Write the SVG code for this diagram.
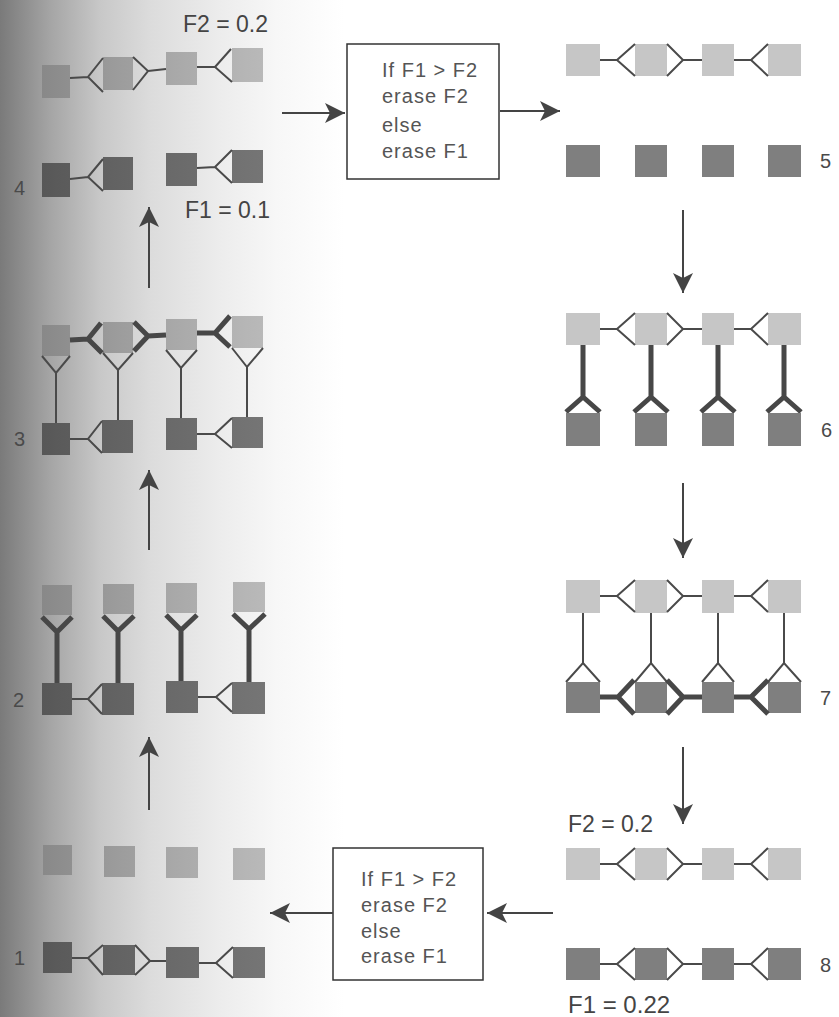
<svg xmlns="http://www.w3.org/2000/svg" width="839" height="1017" viewBox="0 0 839 1017">
<style>
.lt{fill:url(#gLight)}
.dk{fill:url(#gDark)}
.thin{fill:none;stroke:#4a4a4a;stroke-width:2}
.thick{fill:none;stroke:#474747;stroke-width:5;stroke-linejoin:miter}
.arrow{fill:none;stroke:#444;stroke-width:2;marker-end:url(#ah)}
.lbl{font-family:"Liberation Sans",Arial,sans-serif;font-size:23px;fill:#444}
.num{font-family:"Liberation Sans",Arial,sans-serif;font-size:20px;fill:#4a4a4a}
.box{fill:#fff;stroke:#333;stroke-width:1.5}
.bt{font-family:"Liberation Sans",Arial,sans-serif;font-size:20px;letter-spacing:1px;fill:#555}
</style>
<defs>
<linearGradient id="gBg" gradientUnits="userSpaceOnUse" x1="0" y1="0" x2="839" y2="0">
<stop offset="0" stop-color="#7a7a7a"/><stop offset="0.06" stop-color="#a5a5a5"/><stop offset="0.12" stop-color="#c8c8c8"/><stop offset="0.18" stop-color="#dcdcdc"/><stop offset="0.26" stop-color="#ececec"/><stop offset="0.33" stop-color="#f7f7f7"/><stop offset="0.41" stop-color="#ffffff"/><stop offset="1" stop-color="#ffffff"/>
</linearGradient>
<linearGradient id="gLight" gradientUnits="userSpaceOnUse" x1="0" y1="0" x2="839" y2="0">
<stop offset="0" stop-color="#7e7e7e"/><stop offset="0.067" stop-color="#8c8c8c"/><stop offset="0.141" stop-color="#9c9c9c"/><stop offset="0.216" stop-color="#aaaaaa"/><stop offset="0.294" stop-color="#b6b6b6"/><stop offset="0.41" stop-color="#c6c6c6"/><stop offset="1" stop-color="#c6c6c6"/>
</linearGradient>
<linearGradient id="gDark" gradientUnits="userSpaceOnUse" x1="0" y1="0" x2="839" y2="0">
<stop offset="0" stop-color="#4e4e4e"/><stop offset="0.067" stop-color="#5a5a5a"/><stop offset="0.141" stop-color="#636363"/><stop offset="0.216" stop-color="#6b6b6b"/><stop offset="0.294" stop-color="#737373"/><stop offset="0.41" stop-color="#7f7f7f"/><stop offset="1" stop-color="#7f7f7f"/>
</linearGradient>
<marker id="ah" markerUnits="userSpaceOnUse" markerWidth="22" markerHeight="22" refX="20" refY="10" orient="auto" viewBox="0 0 22 22">
<path d="M0,0 L20,10 L0,20 L5,10 Z" fill="#444"/>
</marker>
</defs>
<rect width="839" height="1017" fill="url(#gBg)"/>

<!-- Stage 4 -->
<g id="stage4">
<g id="s4-top">
<rect class="lt" x="42" y="65" width="28" height="33"/>
<rect class="lt" x="103" y="57" width="30" height="33"/>
<rect class="lt" x="166" y="52" width="31" height="33"/>
<rect class="lt" x="232" y="48" width="31" height="34"/>
<path class="thin" d="M70,78 L88,77 M103,58 L88,77 L103,92 M133,57 L148,71 L133,90 M148,71 L166,69 M197,67 L215,67 M231,49 L215,67 L232,82"/>
</g>
<g id="s4-bottom">
<rect class="dk" x="42" y="163" width="28" height="34"/>
<rect class="dk" x="103" y="157" width="30" height="33"/>
<rect class="dk" x="166" y="153" width="31" height="33"/>
<rect class="dk" x="232" y="150" width="31" height="33"/>
<path class="thin" d="M70,179 L88,177 M103,159 L88,177 L103,191 M197,168 L215,167 M232,150 L215,167 L232,183"/>
</g>
<text class="lbl" x="183" y="32">F2 = 0.2</text>
<text class="lbl" x="185" y="218">F1 = 0.1</text>
<text class="num" x="14" y="195">4</text>
</g>

<!-- Stage 3 -->
<g id="stage3">
<g id="s3-top">
<rect class="lt" x="42" y="325" width="28" height="31"/>
<rect class="lt" x="103" y="322" width="30" height="31"/>
<rect class="lt" x="166" y="319" width="31" height="31"/>
<rect class="lt" x="232" y="316" width="31" height="32"/>
<path class="thick" d="M70,340 L88,339 M101,323 L88,339 L102,353 M134,322 L148,336 L134,351 M148,336 L166,335 M197,333 L215,333 M230,316 L215,333 L230,347"/>
</g>
<path class="thin" d="M42,356 L56,373 L70,356 M56,373 V423 M103,353 L118,370 L133,353 M118,370 V420 M166,350 L181,368 L197,350 M181,368 V418 M232,348 L247,367 L263,348 M247,367 V417"/>
<g id="s3-bottom">
<rect class="dk" x="42" y="423" width="28" height="32"/>
<rect class="dk" x="102" y="420" width="31" height="33"/>
<rect class="dk" x="166" y="418" width="31" height="32"/>
<rect class="dk" x="232" y="417" width="31" height="31"/>
<path class="thin" d="M70,439 H88 M102,421 L88,439 L102,453 M197,434 H215 M232,418 L215,434 L232,448"/>
</g>
<text class="num" x="14" y="446">3</text>
</g>

<!-- Stage 2 -->
<g id="stage2">
<g id="s2-top">
<rect class="lt" x="42" y="585" width="30" height="30"/>
<rect class="lt" x="103" y="584" width="31" height="30"/>
<rect class="lt" x="166" y="583" width="31" height="30"/>
<rect class="lt" x="233" y="582" width="32" height="30"/>
</g>
<path class="thick" d="M42,617 L57,632 L72,617 M57,632 V683 M103,616 L118,631 L134,616 M118,631 V683 M166,615 L181,630 L197,615 M181,630 V681 M233,614 L249,629 L265,614 M249,629 V682"/>
<g id="s2-bottom">
<rect class="dk" x="42" y="683" width="30" height="32"/>
<rect class="dk" x="102" y="683" width="32" height="32"/>
<rect class="dk" x="166" y="681" width="32" height="32"/>
<rect class="dk" x="232" y="682" width="33" height="32"/>
<path class="thin" d="M72,699 H88 M102,684 L88,699 L102,714 M198,697 H216 M232,683 L216,697 L232,712"/>
</g>
<text class="num" x="13" y="707">2</text>
</g>

<!-- Stage 1 -->
<g id="stage1">
<g id="s1-top">
<rect class="lt" x="43" y="845" width="29" height="30"/>
<rect class="lt" x="104" y="846" width="31" height="31"/>
<rect class="lt" x="166" y="847" width="32" height="31"/>
<rect class="lt" x="233" y="848" width="32" height="32"/>
</g>
<g id="s1-bottom">
<rect class="dk" x="43" y="942" width="29" height="31"/>
<rect class="dk" x="103" y="945" width="32" height="30"/>
<rect class="dk" x="166" y="947" width="33" height="31"/>
<rect class="dk" x="233" y="947" width="32" height="31"/>
<path class="thin" d="M72,958 H88 M103,945 L88,958 L103,975 M135,945 L150,961 L135,975 M150,961 H166 M199,963 H216 M233,947 L216,963 L233,978"/>
</g>
<text class="num" x="14" y="965">1</text>
</g>

<!-- Stage 5 -->
<g id="stage5">
<g id="s5-top">
<rect class="lt" x="566" y="44" width="34" height="32"/>
<rect class="lt" x="635" y="44" width="32" height="32"/>
<rect class="lt" x="702" y="44" width="32" height="32"/>
<rect class="lt" x="768" y="44" width="33" height="32"/>
<path class="thin" d="M600,60 H617 M635,44 L617,60 L635,76 M667,44 L683,60 L667,76 M683,60 H702 M734,60 H751 M768,44 L751,60 L768,76"/>
</g>
<g id="s5-bottom">
<rect class="dk" x="566" y="145" width="34" height="32"/>
<rect class="dk" x="635" y="145" width="32" height="32"/>
<rect class="dk" x="702" y="145" width="32" height="32"/>
<rect class="dk" x="768" y="145" width="33" height="32"/>
</g>
<text class="num" x="820" y="168">5</text>
</g>

<!-- Stage 6 -->
<g id="stage6">
<g id="s6-top">
<rect class="lt" x="566" y="313" width="34" height="32"/>
<rect class="lt" x="635" y="313" width="32" height="32"/>
<rect class="lt" x="702" y="313" width="32" height="32"/>
<rect class="lt" x="768" y="313" width="33" height="32"/>
<path class="thin" d="M600,329 H617 M635,313 L617,329 L635,345 M667,313 L683,329 L667,345 M683,329 H702 M734,329 H751 M768,313 L751,329 L768,345"/>
</g>
<path class="thick" d="M583,345 V397 M566,412 L583,397 L600,412 M651,345 V397 M634,412 L651,397 L668,412 M718,345 V397 M701,412 L718,397 L735,412 M784,345 V397 M767,412 L784,397 L801,412"/>
<g id="s6-bottom">
<rect class="dk" x="566" y="413" width="34" height="33"/>
<rect class="dk" x="635" y="413" width="32" height="33"/>
<rect class="dk" x="702" y="413" width="32" height="33"/>
<rect class="dk" x="768" y="413" width="33" height="33"/>
</g>
<text class="num" x="821" y="437">6</text>
</g>

<!-- Stage 7 -->
<g id="stage7">
<g id="s7-top">
<rect class="lt" x="566" y="580" width="34" height="33"/>
<rect class="lt" x="635" y="580" width="32" height="33"/>
<rect class="lt" x="702" y="580" width="32" height="33"/>
<rect class="lt" x="768" y="580" width="33" height="33"/>
<path class="thin" d="M600,596 H617 M635,580 L617,596 L635,612 M667,580 L683,596 L667,612 M683,596 H702 M734,596 H751 M768,580 L751,596 L768,612"/>
</g>
<path class="thin" d="M583,613 V663 M566,682 L583,663 L600,682 M651,613 V663 M635,682 L651,663 L667,682 M718,613 V663 M702,682 L718,663 L734,682 M784,613 V663 M768,682 L784,663 L801,682"/>
<g id="s7-bottom">
<rect class="dk" x="566" y="682" width="34" height="31"/>
<rect class="dk" x="635" y="682" width="32" height="31"/>
<rect class="dk" x="702" y="682" width="32" height="31"/>
<rect class="dk" x="768" y="682" width="33" height="31"/>
<path class="thick" d="M600,697 H618 M634,680 L618,697 L634,714 M667,680 L683,697 L667,714 M683,697 H702 M734,697 H751 M768,680 L751,697 L768,714"/>
</g>
<text class="num" x="820" y="705">7</text>
</g>

<!-- Stage 8 -->
<g id="stage8">
<g id="s8-top">
<rect class="lt" x="566" y="848" width="34" height="32"/>
<rect class="lt" x="635" y="848" width="32" height="32"/>
<rect class="lt" x="702" y="848" width="32" height="32"/>
<rect class="lt" x="768" y="848" width="33" height="32"/>
<path class="thin" d="M600,864 H617 M635,848 L617,864 L635,880 M667,848 L683,864 L667,880 M683,864 H702 M734,864 H751 M768,848 L751,864 L768,880"/>
</g>
<g id="s8-bottom">
<rect class="dk" x="566" y="948" width="34" height="32"/>
<rect class="dk" x="635" y="948" width="32" height="32"/>
<rect class="dk" x="702" y="948" width="32" height="32"/>
<rect class="dk" x="768" y="948" width="33" height="32"/>
<path class="thin" d="M600,964 H617 M635,948 L617,964 L635,980 M667,948 L683,964 L667,980 M683,964 H702 M734,964 H751 M768,948 L751,964 L768,980"/>
</g>
<text class="lbl" x="568" y="832">F2 = 0.2</text>
<text class="lbl" x="568" y="1013" style="font-size:24px">F1 = 0.22</text>
<text class="num" x="820" y="972">8</text>
</g>

<!-- Decision boxes -->
<g id="box-top">
<rect class="box" x="347" y="44" width="152" height="135"/>
<text class="bt" x="382" y="77">If F1 &gt; F2</text>
<text class="bt" x="382" y="103">erase F2</text>
<text class="bt" x="382" y="132">else</text>
<text class="bt" x="382" y="158">erase F1</text>
</g>
<g id="box-bottom">
<rect class="box" x="333" y="848" width="150" height="132"/>
<text class="bt" x="361" y="886">If F1 &gt; F2</text>
<text class="bt" x="361" y="912">erase F2</text>
<text class="bt" x="361" y="938">else</text>
<text class="bt" x="361" y="963">erase F1</text>
</g>

<!-- Connectors -->
<g id="connectors">
<path class="arrow" d="M282,113 L345,113"/>
<path class="arrow" d="M500,111 L560,111"/>
<path class="arrow" d="M683,210 L683,293"/>
<path class="arrow" d="M683,483 L683,558"/>
<path class="arrow" d="M683,747 L683,824"/>
<path class="arrow" d="M553,913 L487,913"/>
<path class="arrow" d="M333,913 L270,913"/>
<path class="arrow" d="M149,810 L149,737"/>
<path class="arrow" d="M149,550 L149,470"/>
<path class="arrow" d="M149,288 L149,207"/>
</g>
</svg>
